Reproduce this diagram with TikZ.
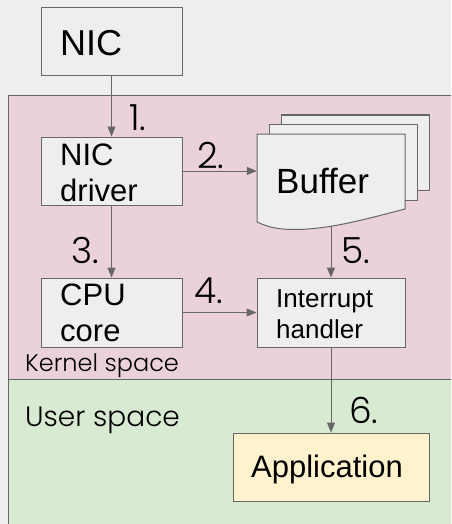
\documentclass[tikz,border=0pt]{standalone}
\usepackage{fontspec}
\setmainfont{Liberation Sans}
\newfontfamily\labelfont{Poppins Light}
\usetikzlibrary{arrows.meta}
\definecolor{bg}{HTML}{EEEEEE}
\definecolor{edge}{HTML}{666666}
\definecolor{kernelfill}{HTML}{EAD1DC}
\definecolor{userfill}{HTML}{D9EAD3}
\definecolor{appfill}{HTML}{FFF2CC}
\tikzset{
  box/.style={draw=edge, line width=1pt, fill=bg, rectangle, inner sep=0pt},
  flow/.style={draw=edge, line width=1pt, -{Triangle[length=10pt,width=8pt]}},
  txt/.style={anchor=base west, inner sep=0pt, text=black},
  num/.style={anchor=base west, inner sep=0pt, font=\labelfont\fontsize{36}{36}\selectfont},
  region/.style={anchor=base west, inner sep=0pt, font=\labelfont},
}
\begin{document}
\begin{tikzpicture}[x=1pt, y=-1pt]
\useasboundingbox (0,0) rectangle (451,524);
\fill[bg] (0,0) rectangle (451,524);
\begin{scope}
\clip (0,0) rectangle (451,524);
% kernel and user space regions
\draw[edge, fill=kernelfill, line width=1pt] (8,96) rectangle (470,379);
\draw[edge, fill=userfill, line width=1pt] (8,379) rectangle (470,540);
\end{scope}

% boxes
\node[box, minimum width=141pt, minimum height=68pt] (nic) at (111.5,42) {};
\node[box, minimum width=141pt, minimum height=68pt] (drv) at (111.5,171) {};
\node[box, minimum width=141pt, minimum height=69pt] (cpu) at (111.5,312.5) {};
\node[box, minimum width=148pt, minimum height=69pt] (ih) at (331,312.5) {};
\node[box, fill=appfill, minimum width=196pt, minimum height=68pt] (app) at (331,467) {};

% buffer: stacked pages with a wavy bottom edge
\draw[edge, fill=bg, line width=1pt] (281,115) rectangle (429,190);
\draw[edge, fill=bg, line width=1pt] (269,124) rectangle (417,200);
\draw[edge, fill=bg, line width=1pt] (257,134) -- (405,134) -- (405,209)
  .. controls (370,218) and (330,229.5) .. (295,229.5)
  .. controls (280,229.5) and (270,228) .. (257,222) -- cycle;
\node[inner sep=0pt, minimum width=148pt, minimum height=76pt] (buf) at (331,172) {};
\coordinate (bufbot) at (331,225.5);

% texts
\node[txt, font=\fontsize{36}{36}\selectfont] (tnic) at (60,56) {NIC};
\node[txt, font=\fontsize{31}{31}\selectfont] (tdrv1) at (60,165) {NIC};
\node[txt, font=\fontsize{31}{31}\selectfont] (tdrv2) at (60,201) {driver};
\node[txt, font=\fontsize{35}{35}\selectfont] (tbuf) at (276,193) {Buffer};
\node[txt, font=\fontsize{31}{31}\selectfont] (tcpu1) at (60,305.5) {CPU};
\node[txt, font=\fontsize{31}{31}\selectfont] (tcpu2) at (60,341.5) {core};
\node[txt, font=\fontsize{26}{26}\selectfont] (tih1) at (276,307) {Interrupt};
\node[txt, font=\fontsize{26}{26}\selectfont] (tih2) at (276,338) {handler};
\node[txt, font=\fontsize{31}{31}\selectfont] (tapp) at (251,477) {Application};
\node[region, font=\labelfont\fontsize{24}{24}\selectfont] (kern) at (25,371) {Kernel space};
\node[region, font=\labelfont\fontsize{28}{28}\selectfont] (user) at (25,426) {User space};

% connectors
\draw[flow] (nic.south) -- (drv.north);
\draw[flow] (drv.east) -- (drv.east -| buf.west);
\draw[flow] (drv.south) -- (cpu.north);
\draw[flow] (cpu.east) -- (ih.west);
\draw[flow] (bufbot) -- (ih.north);
\draw[flow] (ih.south) -- (app.north);

% step numbers
\node[num] (n1) at (129,130) {1.};
\node[num] (n2) at (197,168) {2.};
\node[num] (n3) at (71,263) {3.};
\node[num] (n4) at (194,303) {4.};
\node[num] (n5) at (341,263) {5.};
\node[num] (n6) at (349,423) {6.};
\end{tikzpicture}
\end{document}
